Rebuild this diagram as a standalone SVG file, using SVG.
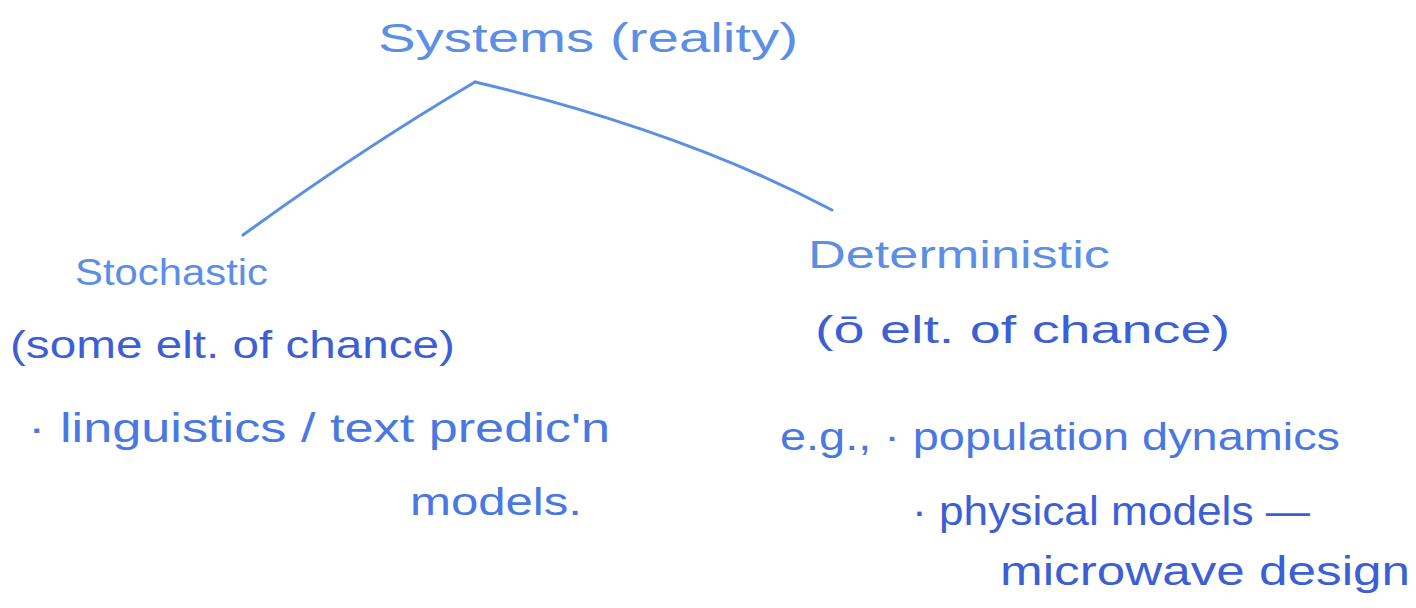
<svg xmlns="http://www.w3.org/2000/svg" width="1416" height="608" viewBox="0 0 1416 608">
<style>
.t{font-family:"Liberation Sans","DejaVu Sans",sans-serif;}
.l{fill:#5b8fe6;}
.d{fill:#3d5fd6;}
.m{fill:#4a78e2;}
.c{fill:none;stroke:#5b8fe6;stroke-width:3;stroke-linecap:round;}
</style>
<rect width="1416" height="608" fill="#ffffff"/>
<g id="connectors">
<path class="c" d="M243,235 Q360,150 475,82"/>
<path class="c" d="M475,82 Q680,130 832,210"/>
</g>
<g id="systems">
<text class="t l" x="378" y="52" font-size="40" textLength="420" lengthAdjust="spacingAndGlyphs">Systems (reality)</text>
</g>
<g id="stochastic">
<text class="t l" x="75" y="285" font-size="36" textLength="193" lengthAdjust="spacingAndGlyphs">Stochastic</text>
<text class="t d" x="10" y="358" font-size="38" textLength="445" lengthAdjust="spacingAndGlyphs">(some elt. of chance)</text>
<text class="t m" x="28" y="442" font-size="40" textLength="582" lengthAdjust="spacingAndGlyphs">· linguistics / text predic'n</text>
<text class="t m" x="410" y="515" font-size="38" textLength="172" lengthAdjust="spacingAndGlyphs">models.</text>
</g>
<g id="deterministic">
<text class="t l" x="808" y="268" font-size="38" textLength="302" lengthAdjust="spacingAndGlyphs">Deterministic</text>
<text class="t d" x="815" y="343" font-size="38" textLength="415" lengthAdjust="spacingAndGlyphs">(ō elt. of chance)</text>
<text class="t m" x="780" y="450" font-size="38" textLength="560" lengthAdjust="spacingAndGlyphs">e.g., · population dynamics</text>
<text class="t d" x="912" y="525" font-size="40" textLength="398" lengthAdjust="spacingAndGlyphs">· physical models —</text>
<text class="t d" x="1000" y="585" font-size="40" textLength="410" lengthAdjust="spacingAndGlyphs">microwave design</text>
</g>
</svg>
